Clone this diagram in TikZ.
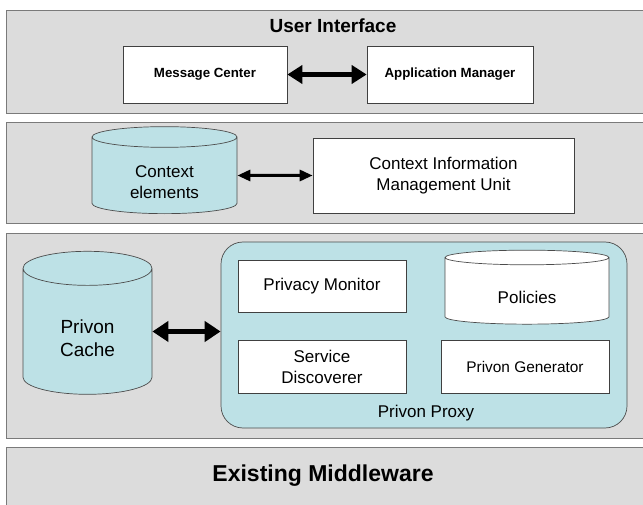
\documentclass[tikz,border=0pt]{standalone}
\usepackage{fontspec}
\setmainfont{Liberation Sans}
\usetikzlibrary{arrows.meta,positioning,shapes.geometric}
\definecolor{layergray}{HTML}{DCDCDC}
\definecolor{edgegray}{HTML}{7A7A7A}
\definecolor{paleblue}{HTML}{BDE1E6}

\begin{document}
\begin{tikzpicture}[x=1pt, y=-1pt,
  layer/.style={draw=edgegray, fill=layergray, line width=1.4pt,
    anchor=north west, inner sep=0pt, minimum width=660pt},
  box/.style={draw=black!75, fill=white, line width=0.7pt,
    inner sep=0pt, align=center, font=\fontsize{17}{21}\selectfont},
  store/.style={cylinder, shape border rotate=90, draw=black!70,
    fill=paleblue, line width=0.7pt, inner sep=0pt, align=center,
    font=\fontsize{17}{21}\selectfont},
  link/.style={{Triangle[length=15pt,width=18pt]}-{Triangle[length=15pt,width=18pt]},
    line width=5pt}]

\clip (0,0) rectangle (643,505);
\fill[white] (0,0) rectangle (643,505);

% Layers
\node[layer, minimum height=103pt] (uilayer) at (6,10) {};
\node[layer, minimum height=101pt] (ctxlayer) at (6,122) {};
\node[layer, minimum height=205pt] (privlayer) at (6,233) {};
\node[layer, minimum height=80pt] (mwlayer) at (6,447) {};

% User interface
\node[font=\bfseries\fontsize{19}{23}\selectfont] (uititle) at (333,26) {User Interface};
\node[box, font=\bfseries\fontsize{13.3}{16}\selectfont,
  minimum width=164pt, minimum height=57pt] (msgcenter) at (205,74.5) {Message Center};
\node[box, font=\bfseries\fontsize{13.3}{16}\selectfont,
  minimum width=166pt, minimum height=57pt] (appmanager) at (450,74.5) {Application Manager};

% Context
\node[store, aspect=0.3, minimum width=145pt, minimum height=87pt] (ctxelements) at (164.5,175.5)
  {\rule{0pt}{26pt}Context\\elements};
\node[box, minimum width=261pt, minimum height=75pt] (cimu) at (443.5,175.5)
  {Context Information\\Management Unit};

% Privon
\node[store, aspect=0.62, minimum width=129pt, minimum height=143pt,
  font=\fontsize{19}{23}\selectfont] (cache) at (87.5,331.5) {\rule{0pt}{28pt}Privon\\Cache};
\node[draw=black!70, fill=paleblue, line width=0.7pt, rounded corners=22pt,
  minimum width=406pt, minimum height=186pt] (proxy) at (424,335) {};
\node[box, minimum width=168pt, minimum height=52pt] (monitor) at (322,286) {Privacy Monitor};
\node[store, fill=white, aspect=0.25, minimum width=164pt, minimum height=74pt] (policies) at (527,291)
  {\rule{0pt}{26pt}Policies};
\node[box, minimum width=168pt, minimum height=53pt] (discoverer) at (322,366.5) {Service\\Discoverer};
\node[box, font=\fontsize{15.4}{19}\selectfont,
  minimum width=168pt, minimum height=53pt] (generator) at (525,366.5) {Privon Generator};
\node[font=\fontsize{17}{21}\selectfont] (proxylabel) at (426,413) {Privon Proxy};

% Middleware
\node[font=\bfseries\fontsize{23}{27}\selectfont] (mwtitle) at (323,476) {Existing Middleware};

% Arrows
\draw[link] (msgcenter) -- (appmanager);
\draw[link, line width=3pt, {Triangle[length=13pt,width=11pt]}-{Triangle[length=13pt,width=11pt]}]
  (ctxelements) -- (cimu);
\draw[link, {Triangle[length=16pt,width=20pt]}-{Triangle[length=16pt,width=20pt]}]
  (cache.east) -- (cache.east -| proxy.west);

\end{tikzpicture}
\end{document}
